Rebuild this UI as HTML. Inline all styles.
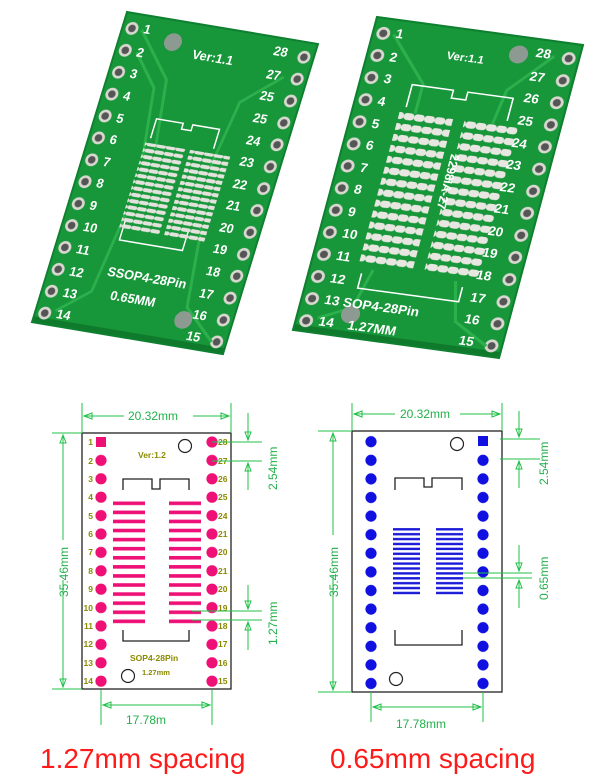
<!DOCTYPE html>
<html><head><meta charset="utf-8"><style>
html,body{margin:0;padding:0;background:#fff;}
svg{display:block;}
text{font-family:"Liberation Sans",sans-serif;}
</style></head><body>
<svg width="603" height="778" viewBox="0 0 603 778" xmlns="http://www.w3.org/2000/svg">
<defs>
  <pattern id="bpins" x="0" y="4" width="20" height="22.6" patternUnits="userSpaceOnUse">
    <circle cx="10" cy="11.3" r="6.5" fill="#d8d8d0"/>
    <circle cx="10" cy="11.3" r="3.8" fill="#555"/>
  </pattern>
  <pattern id="spad1" x="0" y="0" width="10" height="6.5" patternUnits="userSpaceOnUse">
    <rect x="0" y="0.8" width="10" height="4" rx="2" fill="#e4e2dc"/>
  </pattern>
  <pattern id="spad2" x="0" y="0" width="10" height="11.2" patternUnits="userSpaceOnUse">
    <rect x="0" y="1" width="10" height="7" rx="3" fill="#e8e6e0"/>
  </pattern>
  <pattern id="mpins" x="95" y="432.8" width="12" height="18.4" patternUnits="userSpaceOnUse">
    <circle cx="6" cy="9.2" r="5.6" fill="#ee1077"/>
  </pattern>
  <pattern id="mpins2" x="206" y="432.8" width="12" height="18.4" patternUnits="userSpaceOnUse">
    <circle cx="6" cy="9.2" r="5.6" fill="#ee1077"/>
  </pattern>
  <pattern id="mpads" x="0" y="501" width="40" height="9.08" patternUnits="userSpaceOnUse">
    <rect x="0" y="0.5" width="40" height="3.6" fill="#ee1077"/>
  </pattern>
  <pattern id="bdots" x="365" y="432.4" width="12" height="18.6" patternUnits="userSpaceOnUse">
    <circle cx="6" cy="9.3" r="5.6" fill="#1010e0"/>
  </pattern>
  <pattern id="bdots2" x="477" y="432.4" width="12" height="18.6" patternUnits="userSpaceOnUse">
    <circle cx="6" cy="9.3" r="5.6" fill="#1010e0"/>
  </pattern>
  <pattern id="bpads" x="0" y="527.5" width="40" height="4.9" patternUnits="userSpaceOnUse">
    <rect x="0" y="0.6" width="40" height="2.4" fill="#1a1ad8"/>
  </pattern>
</defs>

<!-- LEFT PHOTO BOARD -->
<g transform="matrix(0.955,0.16,-0.297,0.969,127,12)">
  <rect x="0" y="0" width="200" height="320" fill="#17963a"/>
  <rect x="0" y="314" width="200" height="6" fill="#0f7a2c"/>
  <rect x="0" y="0" width="200" height="320" fill="none" stroke="#0e8030" stroke-width="2"/>
  <rect x="3" y="0" width="20" height="320" fill="url(#bpins)"/>
  <rect x="177" y="0" width="20" height="320" fill="url(#bpins)"/>
  <path d="M20 15 L60 60 L70 130 M22 38 L50 70 L60 140 M176 38 L140 70 L130 140 M60 200 L50 280 L20 305 M140 200 L150 280 L185 310" stroke="#2bb04c" stroke-width="3" fill="none"/>
  <ellipse cx="55" cy="22" rx="9" ry="9" fill="#8d9a92"/>
  <ellipse cx="150" cy="293" rx="9" ry="9" fill="#8d9a92"/>
  <path d="M62 120 V100 H90 V106 H100 V100 H128 V120 M62 205 V225 H128 V205" stroke="#fff" stroke-width="1.5" fill="none"/>
  <rect x="58" y="125" width="42" height="90" fill="url(#spad1)"/>
  <rect x="105" y="125" width="42" height="90" fill="url(#spad1)"/>
  <g fill="#fff" font-size="13" font-weight="bold">
    <text x="78" y="35">Ver:1.1</text>
    <text x="60" y="262">SSOP4-28Pin</text>
    <text x="70" y="285">0.65MM</text>
    <text x="22" y="18">1</text><text x="22" y="42">2</text><text x="22" y="64">3</text><text x="22" y="87">4</text>
    <text x="22" y="110">5</text><text x="22" y="132">6</text><text x="22" y="155">7</text><text x="22" y="177">8</text>
    <text x="22" y="200">9</text><text x="22" y="222">10</text><text x="22" y="245">11</text><text x="22" y="268">12</text>
    <text x="22" y="290">13</text><text x="22" y="312">14</text>
    <text x="158" y="18">28</text><text x="158" y="42">27</text><text x="158" y="64">25</text><text x="158" y="87">25</text>
    <text x="158" y="110">24</text><text x="158" y="132">23</text><text x="158" y="155">22</text><text x="158" y="177">21</text>
    <text x="158" y="200">20</text><text x="158" y="222">19</text><text x="158" y="245">18</text><text x="158" y="268">17</text>
    <text x="158" y="290">16</text><text x="158" y="312">15</text>
  </g>
</g>

<!-- RIGHT PHOTO BOARD -->
<g transform="matrix(1.03,0.14,-0.2625,0.978,377,17)">
  <rect x="0" y="0" width="200" height="320" fill="#17963a"/>
  <rect x="0" y="314" width="200" height="6" fill="#0f7a2c"/>
  <rect x="0" y="0" width="200" height="320" fill="none" stroke="#0e8030" stroke-width="2"/>
  <rect x="3" y="0" width="20" height="320" fill="url(#bpins)"/>
  <rect x="177" y="0" width="20" height="320" fill="url(#bpins)"/>
  <path d="M20 15 L60 60 L60 90 M176 15 L140 55 L135 90 M60 250 L50 290 L20 305 M140 250 L150 290 L185 310" stroke="#2bb04c" stroke-width="3" fill="none"/>
  <ellipse cx="142" cy="18" rx="9" ry="9" fill="#8d9a92"/>
  <ellipse cx="50" cy="297" rx="9" ry="9" fill="#8d9a92"/>
  <path d="M50 85 V62 H90 V70 H104 V62 H148 V85 M50 255 V270 H148 V255" stroke="#fff" stroke-width="1.5" fill="none"/>
  <rect x="45" y="88" width="52" height="158" fill="url(#spad2)"/>
  <rect x="108" y="88" width="52" height="158" fill="url(#spad2)"/>
  <g fill="#fff" font-size="13" font-weight="bold">
    <text x="75" y="32" font-size="11">Ver:1.1</text>
    <text x="40" y="290">SOP4-28Pin</text>
    <text x="50" y="312">1.27MM</text>
    <text transform="translate(104,125) rotate(90)" font-size="12">2298IA-27</text>
    <text x="22" y="18">1</text><text x="22" y="42">2</text><text x="22" y="64">3</text><text x="22" y="87">4</text>
    <text x="22" y="110">5</text><text x="22" y="132">6</text><text x="22" y="155">7</text><text x="22" y="177">8</text>
    <text x="22" y="200">9</text><text x="22" y="222">10</text><text x="22" y="245">11</text><text x="22" y="268">12</text>
    <text x="22" y="290">13</text><text x="22" y="312">14</text>
    <text x="158" y="18">28</text><text x="158" y="42">27</text><text x="158" y="64">26</text><text x="158" y="87">25</text>
    <text x="158" y="110">24</text><text x="158" y="132">23</text><text x="158" y="155">22</text><text x="158" y="177">21</text>
    <text x="158" y="200">20</text><text x="158" y="222">19</text><text x="158" y="245">18</text><text x="158" y="268">17</text>
    <text x="158" y="290">16</text><text x="158" y="312">15</text>
  </g>
</g>

<!-- LEFT DIAGRAM -->
<g>
  <rect x="82" y="433" width="149" height="256" fill="#fff" stroke="#222" stroke-width="1.3"/>
  <rect x="95" y="433" width="12" height="257" fill="url(#mpins)"/>
  <rect x="94" y="434" width="14" height="16" fill="#fff"/>
  <rect x="96" y="437" width="10" height="10" fill="#ee1077"/>
  <rect x="206" y="433" width="12" height="257" fill="url(#mpins2)"/>
  <rect x="113" y="501" width="32" height="127" fill="url(#mpads)"/>
  <rect x="169" y="501" width="32" height="127" fill="url(#mpads)"/>
  <path d="M123 490 V479 H152 V489 H160 V479 H189 V490 M123 630 V641 H189 V630" stroke="#222" stroke-width="1.3" fill="none"/>
  <circle cx="185" cy="446" r="6.5" fill="none" stroke="#222" stroke-width="1.2"/>
  <circle cx="128" cy="676" r="6.5" fill="none" stroke="#222" stroke-width="1.2"/>
  <g fill="#8a8a00" font-size="8.5" font-weight="bold">
    <text x="138" y="458">Ver:1.2</text>
    <text x="130" y="661">SOP4-28Pin</text>
    <text x="142" y="675" font-size="7.5">1.27mm</text>
    <g text-anchor="end">
      <text x="93" y="445">1</text><text x="93" y="464">2</text><text x="93" y="482">3</text><text x="93" y="500">4</text>
      <text x="93" y="519">5</text><text x="93" y="537">6</text><text x="93" y="555">7</text><text x="93" y="574">8</text>
      <text x="93" y="592">9</text><text x="93" y="611">10</text><text x="93" y="629">11</text><text x="93" y="647">12</text>
      <text x="93" y="666">13</text><text x="93" y="684">14</text>
    </g>
    <text x="218" y="445">28</text><text x="218" y="464">27</text><text x="218" y="482">26</text><text x="218" y="500">25</text>
    <text x="218" y="519">24</text><text x="218" y="537">21</text><text x="218" y="555">20</text><text x="218" y="574">21</text>
    <text x="218" y="592">20</text><text x="218" y="611">19</text><text x="218" y="629">18</text><text x="218" y="647">17</text>
    <text x="218" y="666">16</text><text x="218" y="684">15</text>
  </g>
  <g stroke="#22c04a" stroke-width="1" fill="none">
    <path d="M82 403 V433 M231 403 V433 M84 416 H124 M193 416 H229"/>
    <path d="M84 416 l8 -3 v6 z M229 416 l-8 -3 v6 z"/>
    <path d="M52 433 H82 M52 689 H82 M63 435 V540 M63 580 V687"/>
    <path d="M63 435 l-3 8 h6 z M63 687 l-3 -8 h6 z"/>
    <path d="M212 442 H262 M212 461 H262 M248 413 V440 M248 463 V490"/>
    <path d="M248 440 l-3 -8 h6 z M248 463 l-3 8 h6 z"/>
    <path d="M192 611 H262 M192 620 H262 M248 585 V609 M248 622 V650"/>
    <path d="M248 609 l-3 -8 h6 z M248 622 l-3 8 h6 z"/>
    <path d="M101 690 V725 M212 690 V725 M103 705 H210"/>
    <path d="M103 705 l8 -3 v6 z M210 705 l-8 -3 v6 z"/>
  </g>
  <g fill="#22b04a" font-size="12">
    <rect x="125" y="408" width="66" height="14" fill="#fff"/>
    <text x="128" y="420">20.32mm</text>
    <text transform="translate(68,597) rotate(-90)">35.46mm</text>
    <text transform="translate(277,490) rotate(-90)">2.54mm</text>
    <text transform="translate(277,645) rotate(-90)">1.27mm</text>
    <text x="126" y="724">17.78m</text>
  </g>
</g>

<!-- RIGHT DIAGRAM -->
<g>
  <rect x="352" y="431" width="150" height="261" fill="#fff" stroke="#222" stroke-width="1.3"/>
  <rect x="365" y="431" width="12" height="261" fill="url(#bdots)"/>
  <rect x="477" y="431" width="12" height="261" fill="url(#bdots2)"/>
  <rect x="476" y="433" width="14" height="16" fill="#fff"/>
  <rect x="478" y="436" width="10" height="10" fill="#1010e0"/>
  <rect x="393" y="528" width="27" height="68" fill="url(#bpads)"/>
  <rect x="436" y="528" width="27" height="68" fill="url(#bpads)"/>
  <path d="M395 490 V478 H424 V487 H432 V478 H462 V490 M395 630 V645 H462 V630" stroke="#222" stroke-width="1.3" fill="none"/>
  <circle cx="457" cy="444" r="6.5" fill="none" stroke="#222" stroke-width="1.2"/>
  <circle cx="396" cy="679" r="6.5" fill="none" stroke="#222" stroke-width="1.2"/>
  <g stroke="#22c04a" stroke-width="1" fill="none">
    <path d="M352 403 V431 M502 403 V431 M354 414 H395 M460 414 H500"/>
    <path d="M354 414 l8 -3 v6 z M500 414 l-8 -3 v6 z"/>
    <path d="M318 431 H352 M318 692 H352 M333 433 V535 M333 575 V690"/>
    <path d="M333 433 l-3 8 h6 z M333 690 l-3 -8 h6 z"/>
    <path d="M500 439 H540 M500 459 H540 M519 411 V437 M519 461 V488"/>
    <path d="M519 437 l-3 -8 h6 z M519 461 l-3 8 h6 z"/>
    <path d="M463 573 H532 M463 578 H532 M519 545 V571 M519 580 V608"/>
    <path d="M519 571 l-3 -8 h6 z M519 580 l-3 8 h6 z"/>
    <path d="M371 692 V722 M483 692 V722 M373 707 H481"/>
    <path d="M373 707 l8 -3 v6 z M481 707 l-8 -3 v6 z"/>
  </g>
  <g fill="#22b04a" font-size="12">
    <text x="400" y="418">20.32mm</text>
    <text transform="translate(338,597) rotate(-90)">35.46mm</text>
    <text transform="translate(548,485) rotate(-90)">2.54mm</text>
    <text transform="translate(548,600) rotate(-90)">0.65mm</text>
    <text x="396" y="728">17.78mm</text>
  </g>
</g>

<g fill="#ff1a1a" font-size="28">
  <text x="40" y="768">1.27mm spacing</text>
  <text x="330" y="768">0.65mm spacing</text>
</g>
</svg>
</body></html>
